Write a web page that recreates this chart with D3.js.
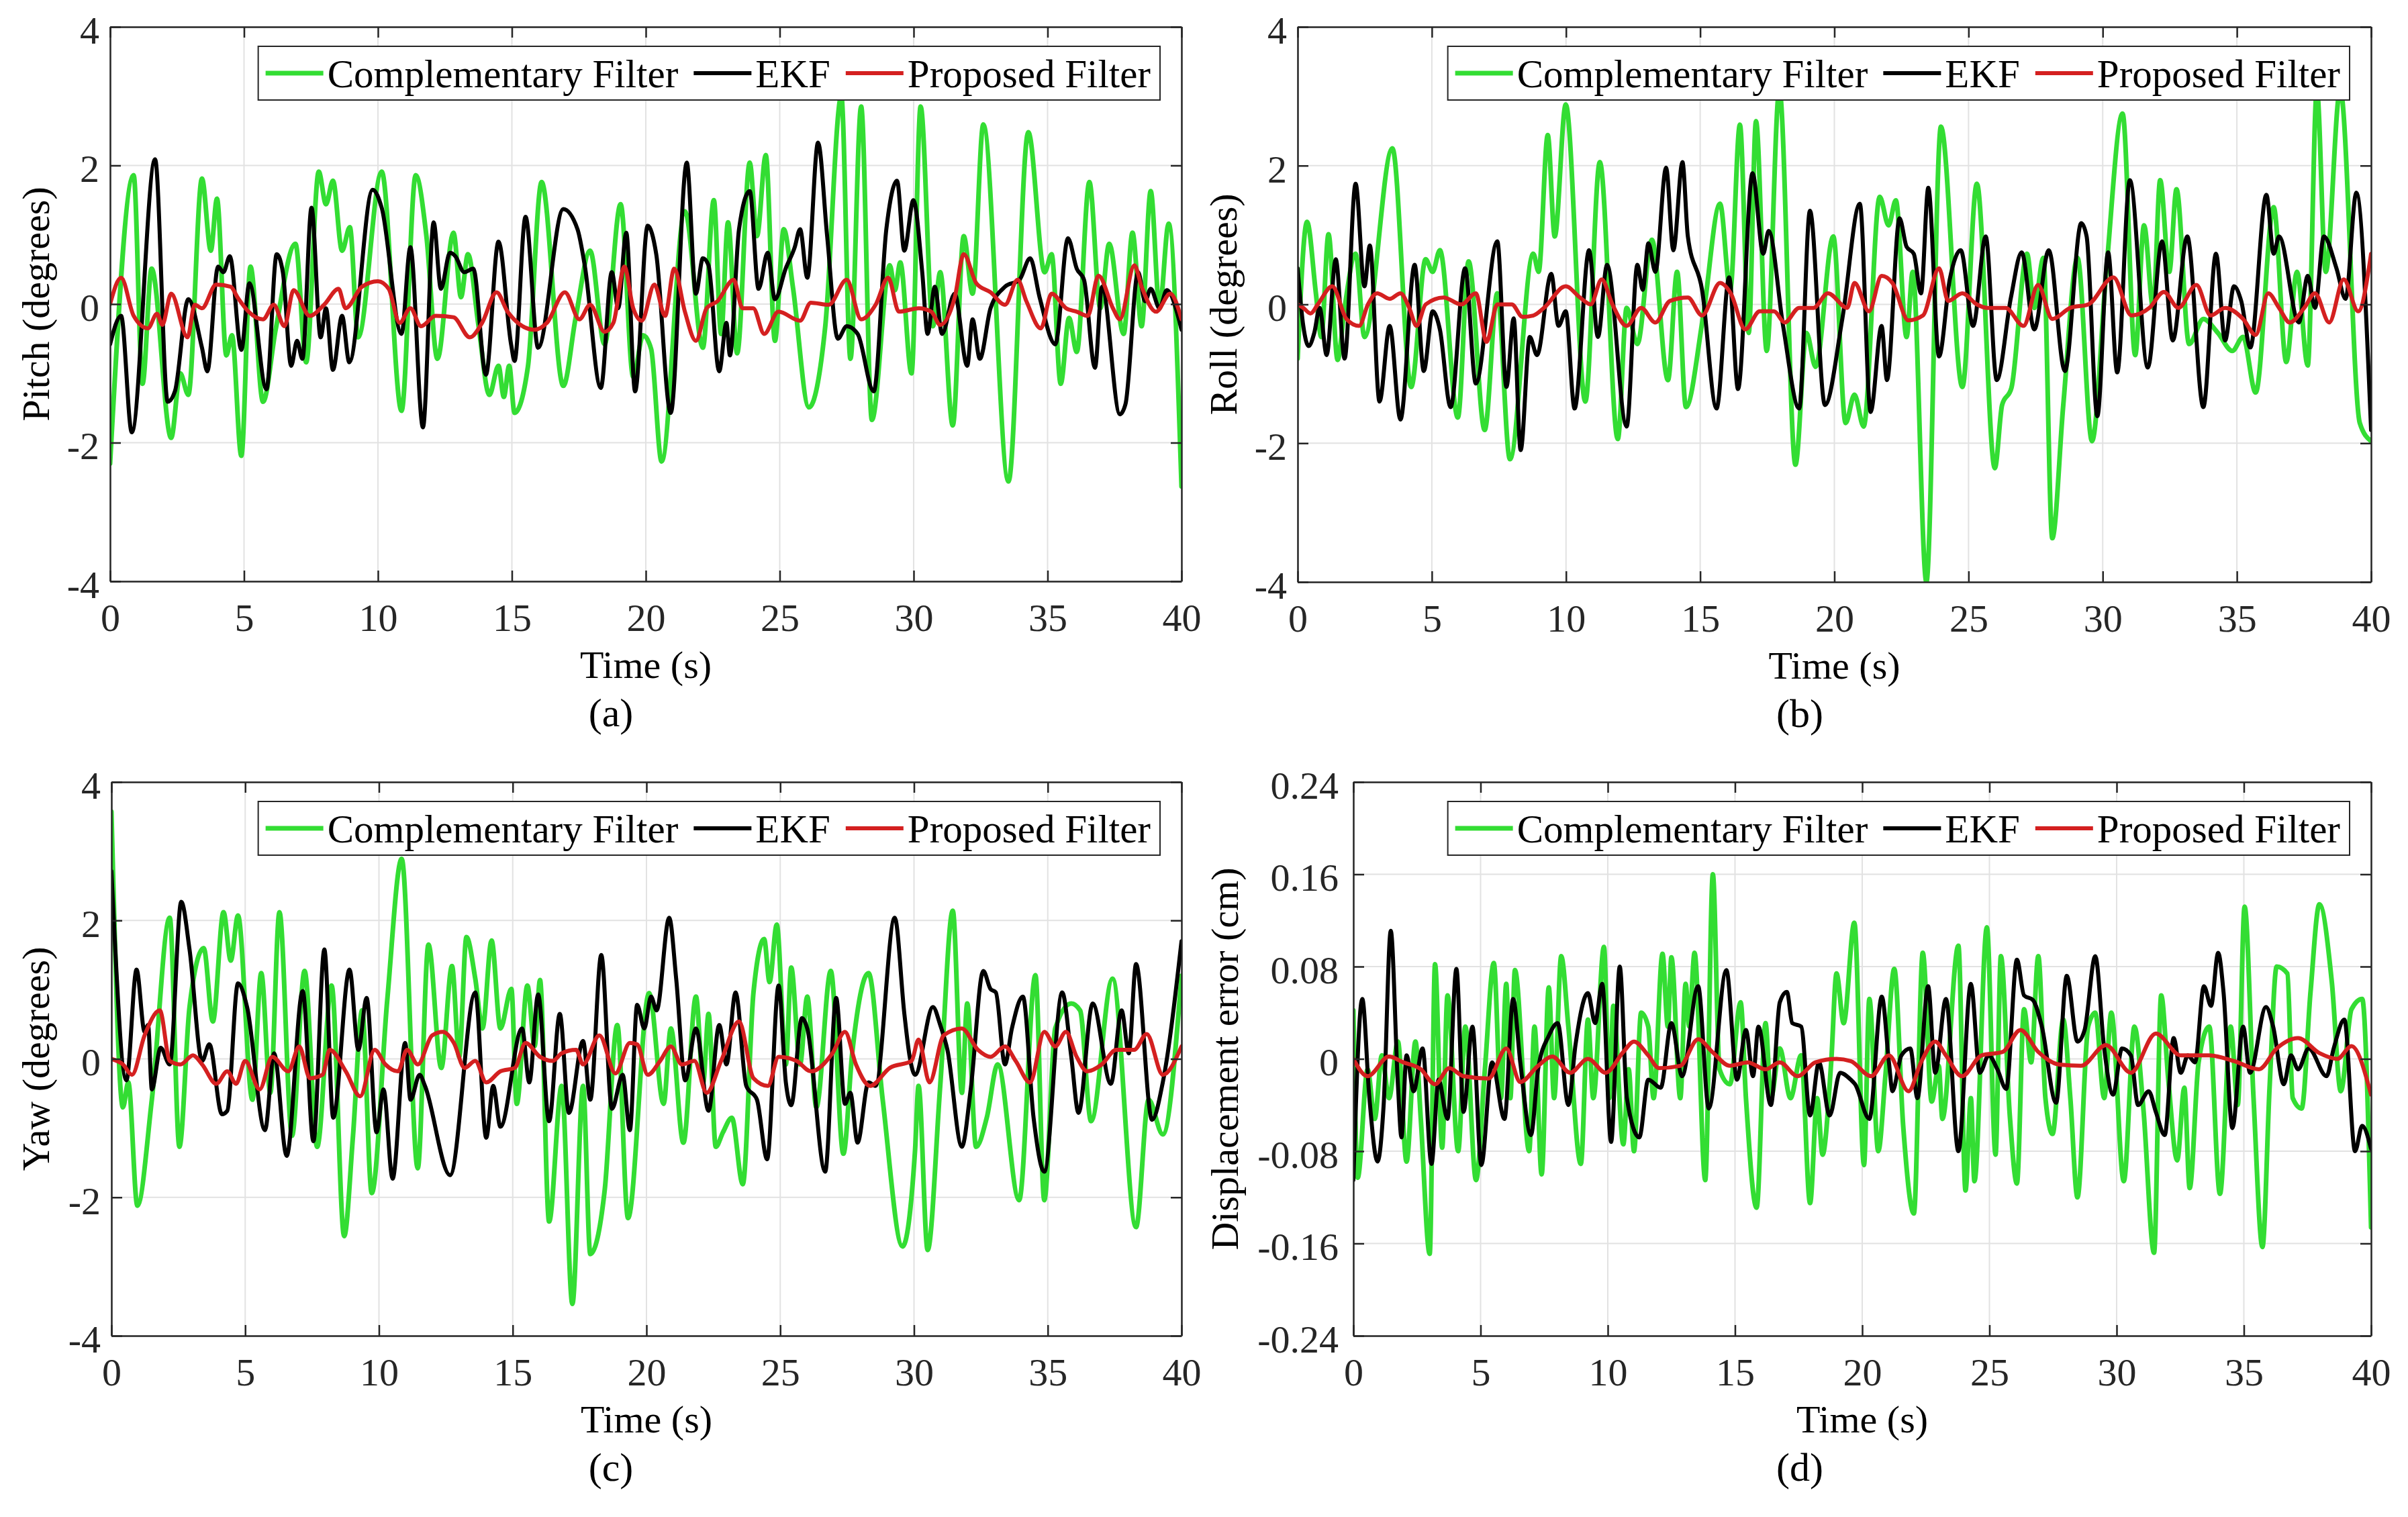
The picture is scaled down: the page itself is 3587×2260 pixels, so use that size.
<!DOCTYPE html>
<html><head><meta charset="utf-8">
<script src="https://cdn.jsdelivr.net/npm/d3@7"></script>
<style>body{margin:0;background:#fff}</style>
</head><body>
<svg id="fig" width="3587" height="2260"></svg>
<script>
// ---------------- DATA ----------------
const timeTicks = [0,5,10,15,20,25,30,35,40];
const timeTickLabels = ["0","5","10","15","20","25","30","35","40"];
const angleTicks = [-4,-2,0,2,4];
const angleTickLabels = ["-4","-2","0","2","4"];
const dispTicks = [-0.24,-0.16,-0.08,0,0.08,0.16,0.24];
const dispTickLabels = ["-0.24","-0.16","-0.08","0","0.08","0.16","0.24"];
const seriesNames = ["Complementary Filter","EKF","Proposed Filter"];
const panelLetters = ["(a)","(b)","(c)","(d)"];
const yLabels = ["Pitch (degrees)","Roll (degrees)","Yaw (degrees)","Displacement error (cm)"];
const xLabel = "Time (s)";

// (a) Pitch
const pitchCF = [[0,-2.30],[0.88,1.86],[1.21,-1.15],[1.55,0.51],[2.28,-1.93],[2.62,-1.00],[2.92,-1.31],[3.43,1.81],[3.76,0.77],[3.99,1.52],[4.34,-0.74],[4.55,-0.45],[4.90,-2.19],[5.24,0.54],[5.71,-1.41],[6.18,-0.37],[6.92,0.87],[7.32,-0.84],[7.79,1.91],[8.06,1.44],[8.32,1.78],[8.66,0.77],[8.95,1.11],[9.26,-0.48],[10.14,1.91],[10.88,-1.54],[11.41,1.86],[11.81,0.98],[12.22,-0.79],[12.82,1.03],[13.10,0.10],[13.36,0.72],[13.75,-0.30],[14.16,-1.31],[14.50,-0.89],[14.70,-1.34],[14.90,-0.89],[15.10,-1.57],[15.60,-0.90],[16.11,1.76],[16.92,-1.18],[17.38,-0.20],[17.92,0.77],[18.46,-0.58],[19.06,1.44],[19.53,-1.05],[19.90,-0.45],[20.20,-0.65],[20.59,-2.27],[21.46,1.34],[22.13,-0.63],[22.54,1.50],[22.81,-0.43],[23.07,1.18],[23.41,-0.71],[23.88,2.04],[24.15,0.98],[24.48,2.15],[24.82,-0.53],[25.15,1.08],[25.49,0.25],[26.09,-1.49],[26.70,-0.32],[27.30,3.00],[27.64,-0.79],[28.04,2.85],[28.44,-1.67],[29.11,0.56],[29.30,0.20],[29.50,0.60],[29.92,-1.00],[30.26,2.85],[30.72,-0.32],[30.99,0.46],[31.46,-1.75],[31.87,0.98],[32.20,0.15],[32.60,2.59],[33.54,-2.56],[34.28,2.48],[34.89,0.46],[35.15,0.72],[35.49,-1.15],[35.80,-0.20],[36.09,-0.69],[36.56,1.76],[36.97,-0.06],[37.30,0.87],[37.84,-0.43],[38.17,1.03],[38.51,-0.32],[38.85,1.63],[39.18,-0.06],[39.52,1.16],[40,-2.63]];
const pitchEKF = [[0,-0.58],[0.41,-0.17],[0.81,-1.85],[1.68,2.09],[2.15,-1.41],[2.42,-1.26],[2.92,0.07],[3.43,-0.63],[3.63,-0.97],[4.03,0.54],[4.23,0.46],[4.47,0.69],[4.90,-0.66],[5.20,0.30],[5.84,-1.23],[6.22,0.72],[6.45,0.46],[6.76,-0.89],[6.98,-0.53],[7.18,-0.79],[7.52,1.39],[7.86,-0.48],[8.06,-0.06],[8.32,-0.95],[8.66,-0.17],[8.93,-0.84],[9.80,1.65],[10.14,1.39],[10.88,-0.43],[11.21,0.82],[11.68,-1.78],[12.08,1.18],[12.35,0.22],[12.69,0.74],[12.89,0.69],[13.22,0.46],[13.56,0.51],[14.03,-1.02],[14.50,0.90],[14.97,-0.58],[15.10,-0.82],[15.51,1.26],[15.98,-0.63],[16.92,1.37],[17.45,1.08],[17.72,0.56],[18.32,-1.21],[18.73,0.46],[18.97,-0.06],[19.27,1.03],[19.60,-1.26],[20.07,1.13],[20.39,0.72],[20.93,-1.57],[21.53,2.04],[21.87,0.15],[22.13,0.66],[22.34,0.56],[22.74,-0.97],[23.01,-0.27],[23.14,-0.74],[23.48,1.08],[23.88,1.63],[24.21,0.22],[24.55,0.74],[24.82,0.07],[25.22,0.51],[25.56,0.82],[25.76,1.08],[26.03,0.38],[26.43,2.33],[26.77,0.98],[27.17,-0.50],[27.50,-0.32],[27.91,-0.43],[28.51,-1.26],[28.98,1.08],[29.38,1.78],[29.65,0.77],[29.99,1.50],[30.32,0.46],[30.52,-0.43],[30.79,0.25],[31.06,-0.43],[31.53,0.15],[32.00,-0.89],[32.20,-0.22],[32.47,-0.79],[32.87,-0.06],[33.41,0.25],[33.95,0.35],[34.35,0.66],[34.70,0.10],[35.29,-0.58],[35.76,0.95],[36.09,0.51],[36.36,0.35],[36.77,-0.92],[37.03,0.25],[37.70,-1.59],[37.91,-1.44],[38.38,0.46],[38.64,0.04],[38.85,0.22],[39.18,-0.06],[39.45,0.20],[40,-0.37]];
const pitchPF = [[0,0.00],[0.41,0.38],[0.88,-0.17],[1.41,-0.35],[1.75,-0.14],[1.95,-0.30],[2.28,0.15],[2.89,-0.48],[3.16,-0.01],[3.43,-0.06],[3.96,0.28],[4.50,0.25],[4.77,0.09],[5.17,-0.11],[5.71,-0.22],[6.11,-0.01],[6.51,-0.32],[6.85,0.20],[7.45,-0.17],[7.99,-0.01],[8.53,0.22],[8.79,-0.06],[9.40,0.25],[10.00,0.33],[10.40,0.22],[10.81,-0.27],[11.21,-0.06],[11.61,-0.32],[12.15,-0.17],[12.82,-0.19],[13.43,-0.48],[13.89,-0.27],[14.43,0.17],[14.84,-0.11],[15.84,-0.37],[16.31,-0.27],[16.98,0.17],[17.52,-0.22],[17.92,-0.01],[18.46,-0.40],[18.79,-0.27],[19.20,0.54],[19.53,-0.06],[19.85,-0.24],[20.32,0.28],[20.72,-0.17],[21.06,0.51],[21.46,-0.11],[21.87,-0.53],[22.27,-0.06],[22.67,0.04],[23.28,0.35],[23.61,-0.06],[24.01,-0.06],[24.42,-0.43],[24.95,-0.11],[25.76,-0.24],[26.16,0.02],[26.83,-0.01],[27.50,0.35],[28.04,-0.22],[28.58,-0.01],[29.05,0.38],[29.45,-0.11],[30.19,-0.06],[30.66,-0.11],[30.99,-0.30],[31.53,0.09],[31.87,0.72],[32.34,0.30],[32.87,0.17],[33.41,-0.01],[33.88,0.35],[34.21,0.04],[34.75,-0.35],[35.15,0.15],[35.69,-0.06],[36.09,-0.11],[36.50,-0.17],[36.90,0.41],[37.44,-0.06],[37.70,-0.22],[38.24,0.56],[38.51,0.25],[39.05,-0.11],[39.58,0.15],[40,-0.22]];

// (b) Roll
const rollCF = [[0,-0.78],[0.35,1.19],[0.68,0.16],[0.88,-0.47],[1.15,1.01],[1.49,-0.80],[1.75,-0.05],[2.16,0.73],[2.49,-0.47],[3.53,2.25],[4.23,-1.19],[4.77,0.65],[5.03,0.47],[5.30,0.78],[5.97,-1.63],[6.37,0.62],[6.97,-1.81],[7.44,0.16],[7.91,-2.23],[8.78,0.73],[8.98,0.47],[9.32,2.44],[9.58,0.98],[9.99,2.88],[10.72,-1.40],[11.26,2.05],[11.93,-1.94],[12.26,-0.05],[12.66,-0.57],[13.20,0.93],[13.80,-1.09],[14.14,0.47],[14.47,-1.48],[15.10,-0.20],[15.74,1.45],[16.12,0.21],[16.48,2.59],[16.81,-0.41],[17.08,2.64],[17.48,-0.67],[17.95,3.10],[18.55,-2.31],[18.96,-0.41],[19.30,-0.90],[19.96,0.98],[20.42,-1.71],[20.75,-1.30],[21.09,-1.76],[21.69,1.55],[22.02,1.14],[22.29,1.50],[22.69,-0.47],[22.92,0.47],[23.43,-4.00],[23.97,2.56],[24.77,-1.19],[25.31,1.74],[25.98,-2.36],[26.25,-1.45],[26.60,-1.20],[27.18,0.73],[27.45,-0.05],[27.79,0.67],[28.12,-3.37],[28.53,-1.45],[29.06,0.67],[29.60,-1.97],[30.13,0.47],[30.74,2.75],[31.21,-0.73],[31.54,1.14],[31.88,-0.05],[32.14,1.79],[32.48,0.47],[32.75,1.66],[33.22,-0.57],[33.75,-0.21],[34.29,-0.41],[34.83,-0.67],[35.23,-0.47],[35.70,-1.27],[36.37,1.40],[36.84,-0.83],[37.24,0.47],[37.64,-0.88],[37.98,3.10],[38.31,0.47],[38.85,3.10],[39.58,-1.71],[40,-1.97]];
const rollEKF = [[0,0.52],[0.21,-0.31],[0.41,-0.60],[0.62,-0.41],[0.82,-0.05],[1.08,-0.73],[1.42,0.65],[1.75,-0.78],[2.16,1.74],[2.49,0.26],[2.69,0.85],[3.05,-1.40],[3.43,-0.31],[3.83,-1.66],[4.36,0.57],[4.70,-0.96],[5.03,-0.10],[5.30,-0.36],[5.70,-1.48],[6.24,0.52],[6.64,-1.14],[7.44,0.91],[7.78,-1.19],[8.05,-0.20],[8.31,-2.10],[8.65,-0.47],[8.92,-0.73],[9.45,0.44],[9.72,-0.31],[9.99,-0.10],[10.32,-1.50],[10.86,0.78],[11.19,-0.47],[11.53,0.57],[12.26,-1.76],[12.66,0.57],[12.86,0.21],[13.07,0.88],[13.33,0.47],[13.73,1.97],[14.00,0.78],[14.34,2.05],[14.54,0.98],[15.07,0.21],[15.61,-1.50],[16.08,0.39],[16.41,-1.22],[16.95,1.89],[17.35,0.73],[17.55,1.06],[18.09,-0.31],[18.69,-1.50],[19.09,1.35],[19.65,-1.45],[20.30,-0.20],[20.95,1.45],[21.35,-1.55],[21.76,-0.31],[21.96,-1.09],[22.43,1.24],[22.69,0.83],[22.96,0.73],[23.23,0.16],[23.50,1.68],[23.90,-0.75],[24.30,0.36],[24.71,0.78],[25.17,-0.31],[25.64,0.98],[26.05,-1.09],[26.58,0.10],[26.98,0.75],[27.45,-0.36],[27.99,0.78],[28.59,-0.96],[29.20,1.17],[29.40,0.98],[29.80,-1.61],[30.20,0.75],[30.54,-0.98],[31.01,1.79],[31.68,-0.91],[32.21,0.91],[32.61,-0.52],[33.15,0.98],[33.75,-1.48],[34.22,0.73],[34.56,-0.52],[34.89,0.26],[35.16,0.05],[35.50,-0.62],[36.10,1.58],[36.37,0.73],[36.57,0.98],[37.31,-0.26],[37.64,0.41],[37.91,-0.05],[38.24,0.98],[38.71,0.52],[39.05,0.08],[39.45,1.61],[40,-1.81]];
const rollPF = [[0,0.00],[0.21,-0.05],[0.48,-0.13],[0.75,0.00],[1.29,0.26],[1.82,-0.21],[2.29,-0.31],[2.62,0.00],[2.96,0.16],[3.43,0.08],[3.83,0.16],[4.16,-0.05],[4.43,-0.31],[4.77,0.00],[5.44,0.10],[6.10,0.00],[6.64,0.16],[7.04,-0.54],[7.44,0.00],[7.98,0.00],[8.38,-0.18],[8.78,-0.16],[9.18,-0.05],[9.99,0.26],[10.52,0.10],[10.92,0.00],[11.33,0.36],[11.73,0.00],[12.26,-0.31],[12.80,-0.05],[13.33,-0.26],[13.87,0.05],[14.54,0.10],[15.07,-0.16],[15.74,0.31],[16.14,0.16],[16.68,-0.36],[17.22,-0.10],[17.75,-0.10],[18.15,-0.26],[18.69,-0.05],[19.22,-0.05],[19.76,0.16],[20.48,-0.05],[20.75,0.31],[21.29,-0.10],[21.76,0.41],[22.16,0.31],[22.76,-0.23],[23.30,-0.16],[23.90,0.52],[24.24,0.05],[24.77,0.16],[25.31,0.00],[25.71,-0.05],[26.38,-0.05],[27.05,-0.31],[27.59,0.28],[28.12,-0.21],[28.79,-0.05],[29.46,0.00],[30.40,0.39],[31.07,-0.16],[31.74,-0.05],[32.28,0.18],[32.82,-0.05],[33.49,0.28],[34.02,-0.16],[34.56,-0.05],[35.23,-0.21],[35.70,-0.44],[36.17,0.16],[36.57,-0.05],[36.97,-0.26],[37.51,-0.05],[37.91,0.16],[38.44,-0.26],[38.98,0.36],[39.52,-0.10],[40,0.73]];

// (c) Yaw
const yawCF = [[0,3.57],[0.43,-0.70],[0.63,-0.34],[0.97,-2.12],[1.51,-0.59],[2.18,2.04],[2.54,-1.27],[2.92,0.75],[3.45,1.60],[3.79,0.54],[4.19,2.12],[4.46,1.42],[4.73,2.07],[5.27,-0.59],[5.60,1.24],[5.94,-0.49],[6.28,2.12],[6.75,-1.11],[7.22,1.27],[7.69,-1.27],[8.23,1.06],[8.70,-2.56],[9.03,-1.11],[9.37,0.70],[9.73,-1.94],[10.31,0.85],[10.85,2.89],[11.45,-1.58],[11.85,1.65],[12.33,-0.13],[12.73,1.34],[13.00,0.03],[13.27,1.76],[13.60,1.16],[13.87,0.44],[14.21,1.71],[14.54,0.44],[14.95,1.01],[15.15,-0.65],[15.55,1.06],[15.82,0.18],[16.02,1.14],[16.36,-2.35],[16.83,-0.39],[17.23,-3.54],[17.63,-0.39],[17.90,-2.82],[18.44,-1.89],[18.91,0.49],[19.31,-2.30],[20.10,0.95],[20.64,-0.65],[20.91,0.44],[21.38,-1.21],[21.85,0.90],[22.12,-0.34],[22.32,0.65],[22.59,-1.27],[22.86,-1.06],[23.19,-0.85],[23.60,-1.81],[24.00,0.96],[24.40,1.73],[24.60,1.11],[24.87,1.94],[25.21,-0.08],[25.41,1.32],[25.74,-0.08],[26.01,0.90],[26.35,-0.70],[26.89,1.27],[27.36,-1.37],[27.69,0.08],[28.30,1.24],[28.83,-0.59],[29.57,-2.71],[30.04,-1.32],[30.17,-0.39],[30.51,-2.76],[30.98,-0.39],[31.45,2.14],[31.79,-0.49],[31.99,0.80],[32.32,-1.27],[32.72,-0.85],[33.13,-0.08],[33.93,-2.04],[34.54,1.21],[34.87,-2.04],[35.28,0.44],[35.88,0.80],[36.21,0.70],[36.62,-0.90],[37.42,1.16],[38.30,-2.43],[38.77,-0.59],[39.30,-1.09],[40,1.20]];
const yawEKF = [[0,2.71],[0.56,-0.31],[0.94,1.29],[1.24,0.39],[1.37,0.49],[1.51,-0.44],[1.84,0.16],[2.18,-0.08],[2.61,2.27],[2.92,1.58],[3.39,-0.03],[3.66,0.21],[4.13,-0.80],[4.33,-0.75],[4.73,1.09],[5.07,0.75],[5.74,-1.03],[6.08,0.08],[6.55,-1.40],[7.15,0.98],[7.55,-1.19],[7.96,1.58],[8.29,-0.85],[8.90,1.29],[9.23,0.13],[9.54,0.88],[9.91,-1.06],[10.17,-0.44],[10.51,-1.73],[10.98,0.23],[11.18,-0.59],[11.52,-0.23],[11.72,-0.39],[12.66,-1.68],[13.60,0.96],[14.01,-1.14],[14.27,-0.39],[14.54,-0.98],[15.35,0.44],[15.62,-0.34],[15.95,0.93],[16.36,-0.90],[16.76,0.65],[17.10,-0.78],[17.63,0.26],[17.90,-0.59],[18.31,1.50],[18.71,-0.72],[19.11,-0.23],[19.38,-1.03],[19.65,0.78],[19.92,0.44],[20.17,0.90],[20.38,0.70],[20.85,2.04],[21.11,1.16],[21.45,-0.31],[21.85,0.44],[22.32,-0.75],[22.72,0.49],[22.99,-0.08],[23.33,0.96],[23.73,-0.39],[24.13,-0.59],[24.51,-1.45],[24.94,1.06],[25.21,-0.34],[25.41,-0.67],[25.81,0.59],[26.01,0.44],[26.68,-1.63],[27.09,0.88],[27.42,-0.65],[27.62,-0.49],[27.89,-1.21],[28.30,-0.34],[28.56,-0.39],[29.28,2.04],[29.64,0.65],[29.84,0.03],[30.04,-0.23],[30.71,0.75],[30.98,0.49],[31.25,0.13],[31.79,-1.27],[32.12,-0.44],[32.59,1.27],[32.86,1.01],[33.06,0.96],[33.40,-0.08],[33.66,0.44],[34.07,0.90],[34.47,-0.85],[34.87,-1.63],[35.54,0.96],[35.88,0.03],[36.15,-0.78],[36.68,0.80],[37.36,-0.36],[37.76,0.70],[38.03,0.08],[38.30,1.37],[38.90,-0.88],[39.30,-0.34],[40,1.70]];
const yawPF = [[0,0.00],[0.43,-0.08],[0.77,-0.23],[1.24,0.34],[1.81,0.70],[2.18,-0.03],[2.58,-0.08],[3.05,0.05],[3.39,-0.08],[3.92,-0.36],[4.33,-0.18],[4.66,-0.36],[5.00,-0.03],[5.54,-0.44],[6.01,0.03],[6.61,-0.18],[7.02,0.18],[7.42,-0.28],[7.89,-0.23],[8.16,0.13],[8.76,-0.18],[9.30,-0.54],[9.84,0.13],[10.24,-0.08],[10.71,-0.18],[11.05,0.13],[11.45,-0.08],[11.99,0.34],[12.39,0.39],[12.80,0.23],[13.20,-0.13],[13.60,-0.03],[14.01,-0.34],[14.54,-0.18],[15.08,-0.13],[15.48,0.23],[16.02,0.03],[16.49,-0.03],[16.83,0.08],[17.37,0.13],[17.63,-0.08],[18.24,0.34],[18.84,-0.21],[19.38,0.23],[19.65,0.21],[20.05,-0.23],[20.51,-0.03],[20.91,0.18],[21.32,-0.08],[21.79,-0.03],[22.25,-0.49],[22.79,-0.03],[23.46,0.54],[24.00,-0.28],[24.54,-0.39],[24.94,0.03],[25.61,-0.03],[26.15,-0.18],[26.95,0.08],[27.42,0.39],[27.83,-0.08],[28.36,-0.39],[29.10,-0.13],[29.91,-0.03],[30.17,0.28],[30.58,-0.34],[31.11,0.34],[31.79,0.44],[32.39,0.13],[32.86,0.03],[33.40,0.18],[33.80,-0.03],[34.34,-0.34],[34.87,0.39],[35.28,0.18],[35.68,0.39],[36.08,0.03],[36.48,-0.18],[37.02,-0.08],[37.56,0.13],[38.23,0.13],[38.70,0.36],[39.30,-0.23],[40,0.18]];

// (d) Displacement error
const dispCF = [[0,0.042],[0.17,-0.103],[0.56,-0.009],[0.84,-0.052],[1.12,0.003],[1.40,-0.034],[1.75,0.015],[2.09,-0.089],[2.44,0.015],[2.65,-0.052],[3.00,-0.169],[3.21,0.082],[3.49,-0.077],[3.70,0.055],[4.12,-0.080],[4.40,0.028],[4.82,-0.105],[5.17,-0.009],[5.52,0.083],[5.80,-0.034],[6.01,0.065],[6.17,-0.034],[6.35,0.077],[6.91,-0.080],[7.12,0.028],[7.40,-0.100],[7.68,0.062],[7.89,-0.034],[8.17,0.089],[8.45,0.028],[8.94,-0.091],[9.22,0.034],[9.43,-0.034],[9.85,0.097],[10.06,-0.034],[10.22,0.046],[10.61,-0.074],[10.82,-0.009],[11.03,-0.080],[11.31,0.040],[11.59,0.028],[11.80,-0.034],[12.15,0.091],[12.36,0.028],[12.50,0.088],[12.85,-0.034],[13.06,0.065],[13.20,0.028],[13.41,0.092],[13.83,-0.105],[14.13,0.160],[14.39,-0.009],[14.80,-0.022],[15.22,0.049],[15.43,-0.034],[15.85,-0.129],[16.20,0.031],[16.41,-0.034],[16.76,0.009],[17.18,-0.034],[17.60,0.003],[17.95,-0.125],[18.23,-0.034],[18.44,-0.083],[18.78,-0.003],[18.99,0.074],[19.27,0.031],[19.69,0.118],[20.07,-0.092],[20.28,0.052],[20.63,-0.080],[20.91,-0.015],[21.26,0.078],[21.61,-0.058],[22.03,-0.134],[22.38,0.092],[22.73,-0.037],[23.01,-0.006],[23.15,-0.052],[23.78,0.098],[24.06,-0.114],[24.27,-0.034],[24.41,-0.106],[24.90,0.114],[25.24,-0.083],[25.45,0.089],[25.80,-0.049],[26.08,-0.108],[26.36,0.043],[26.64,-0.003],[26.92,0.089],[27.20,-0.034],[27.48,-0.065],[27.90,0.034],[28.18,-0.034],[28.46,-0.120],[28.88,0.028],[29.16,0.040],[29.51,-0.034],[29.79,0.040],[30.28,-0.106],[30.70,0.028],[31.05,-0.043],[31.47,-0.168],[31.75,0.055],[32.03,-0.018],[32.38,-0.088],[32.66,-0.025],[32.87,-0.112],[33.22,-0.003],[33.64,0.028],[34.06,-0.117],[34.48,0.028],[34.76,-0.040],[35.03,0.132],[35.38,-0.034],[35.73,-0.163],[36.01,-0.025],[36.29,0.080],[36.71,0.074],[36.92,-0.034],[37.27,-0.043],[37.62,0.058],[37.97,0.134],[38.46,0.066],[38.81,-0.028],[39.23,0.043],[39.65,0.052],[40,-0.146]];
const dispEKF = [[0,-0.105],[0.35,0.052],[0.63,-0.034],[0.95,-0.089],[1.19,-0.040],[1.47,0.111],[1.75,-0.022],[1.89,-0.068],[2.09,0.003],[2.37,-0.028],[2.72,0.009],[3.07,-0.091],[3.35,-0.018],[3.70,-0.052],[4.05,0.078],[4.33,-0.046],[4.68,0.028],[5.03,-0.092],[5.45,-0.003],[5.94,-0.052],[6.28,0.052],[6.56,-0.003],[6.98,-0.066],[7.26,-0.009],[7.68,0.020],[8.03,0.031],[8.45,-0.040],[8.73,0.012],[9.22,0.057],[9.50,0.031],[9.78,0.065],[10.13,-0.072],[10.47,0.080],[10.75,-0.034],[11.24,-0.068],[11.59,-0.018],[12.08,-0.025],[12.50,0.031],[12.92,-0.015],[13.55,0.063],[13.97,-0.043],[14.66,0.077],[15.08,-0.018],[15.43,0.025],[15.71,-0.015],[15.92,0.028],[16.41,-0.040],[16.76,0.049],[17.04,0.058],[17.25,0.031],[17.60,0.028],[17.95,-0.049],[18.30,-0.003],[18.72,-0.049],[19.13,-0.012],[19.55,-0.018],[19.72,-0.022],[20.28,-0.052],[20.77,0.054],[21.05,-0.003],[21.19,-0.028],[21.54,0.003],[21.89,0.009],[22.17,-0.034],[22.59,0.063],[22.87,-0.012],[23.29,0.052],[23.78,-0.080],[24.27,0.065],[24.62,-0.012],[24.97,0.003],[25.31,-0.009],[25.66,-0.026],[26.08,0.086],[26.36,0.055],[26.71,0.051],[27.06,0.028],[27.62,-0.038],[28.04,0.072],[28.46,0.015],[28.74,0.025],[29.16,0.089],[29.51,0.009],[29.86,-0.031],[30.21,0.009],[30.56,0.003],[30.84,-0.040],[31.26,-0.028],[31.54,-0.046],[31.89,-0.066],[32.24,0.018],[32.52,-0.012],[32.80,0.003],[33.08,-0.003],[33.43,0.063],[33.71,0.046],[33.99,0.092],[34.20,0.058],[34.55,-0.060],[34.97,0.028],[35.24,-0.012],[35.87,0.045],[36.15,0.028],[36.57,-0.022],[36.85,0.003],[37.13,-0.009],[37.55,0.009],[38.25,-0.015],[38.53,0.009],[38.95,0.034],[39.37,-0.080],[39.65,-0.058],[40,-0.078]];
const dispPF = [[0,0.000],[0.56,-0.015],[1.40,0.002],[1.96,-0.003],[2.65,-0.009],[3.21,-0.022],[3.77,-0.008],[4.33,-0.015],[5.31,-0.017],[6.01,0.009],[6.56,-0.020],[7.26,-0.006],[7.82,0.002],[8.52,-0.012],[9.22,0.000],[9.92,-0.012],[10.61,0.006],[11.03,0.015],[11.59,0.003],[12.01,-0.008],[12.85,-0.006],[13.55,0.017],[14.11,0.006],[14.80,-0.006],[15.50,-0.003],[16.20,-0.009],[16.76,-0.003],[17.46,-0.015],[18.16,-0.003],[18.99,0.000],[19.55,-0.002],[20.35,-0.015],[21.05,0.003],[21.82,-0.028],[22.31,-0.003],[22.87,0.015],[23.29,0.003],[23.92,-0.015],[24.69,0.003],[25.52,0.006],[26.22,0.025],[26.92,0.006],[27.76,-0.005],[28.60,-0.006],[29.58,0.012],[30.56,-0.012],[31.54,0.022],[32.52,0.003],[33.64,0.003],[34.62,-0.002],[35.59,-0.009],[36.29,0.009],[37.13,0.018],[37.97,0.005],[38.67,0.000],[39.23,0.011],[40,-0.031]];

// ---------------- DRAWING ----------------
const FONT = "'Liberation Serif','Times New Roman',Times,serif";
const lineColors = ["#33dd33","#000000","#d42020"];
const lineWidths = [7, 6, 6];
const axisColor = "#262626";

const panels = [
  {series:[pitchCF,pitchEKF,pitchPF], ticks:angleTicks, tickLabels:angleTickLabels, yLabel:yLabels[0], letter:panelLetters[0], x0:164, x1:1760, y0:40,  y1:866,  yLabelX:73,   letterX:910},
  {series:[rollCF,rollEKF,rollPF],    ticks:angleTicks, tickLabels:angleTickLabels, yLabel:yLabels[1], letter:panelLetters[1], x0:1933,x1:3532, y0:40,  y1:867,  yLabelX:1842, letterX:2681},
  {series:[yawCF,yawEKF,yawPF],       ticks:angleTicks, tickLabels:angleTickLabels, yLabel:yLabels[2], letter:panelLetters[2], x0:166, x1:1760, y0:1165,y1:1990, yLabelX:73,   letterX:910},
  {series:[dispCF,dispEKF,dispPF],    ticks:dispTicks,  tickLabels:dispTickLabels,  yLabel:yLabels[3], letter:panelLetters[3], x0:2016,x1:3532, y0:1165,y1:1990, yLabelX:1844, letterX:2681}
];

const svg = d3.select("#fig");
svg.append("rect").attr("width",3587).attr("height",2260).attr("fill","#fff");
const defs = svg.append("defs");

panels.forEach((p, pi) => {
  const g = svg.append("g");
  const x = d3.scaleLinear().domain([timeTicks[0], timeTicks[timeTicks.length-1]]).range([p.x0, p.x1]);
  const y = d3.scaleLinear().domain([p.ticks[0], p.ticks[p.ticks.length-1]]).range([p.y1, p.y0]);

  // grid
  g.append("g").selectAll("line").data(timeTicks).join("line")
    .attr("x1", d => x(d)).attr("x2", d => x(d)).attr("y1", p.y0).attr("y2", p.y1)
    .attr("stroke", "#e2e2e2").attr("stroke-width", 2);
  g.append("g").selectAll("line").data(p.ticks).join("line")
    .attr("y1", d => y(d)).attr("y2", d => y(d)).attr("x1", p.x0).attr("x2", p.x1)
    .attr("stroke", "#e2e2e2").attr("stroke-width", 2);

  // clip + series
  const cid = "clip" + pi;
  defs.append("clipPath").attr("id", cid).append("rect")
    .attr("x", p.x0).attr("y", p.y0).attr("width", p.x1 - p.x0).attr("height", p.y1 - p.y0);
  const line = d3.line().x(d => x(d[0])).y(d => y(d[1])).curve(d3.curveMonotoneX);
  const lg = g.append("g").attr("clip-path", `url(#${cid})`);
  p.series.forEach((s, i) => {
    lg.append("path").datum(s).attr("d", line).attr("fill", "none")
      .attr("stroke", lineColors[i]).attr("stroke-width", lineWidths[i])
      .attr("stroke-linejoin", "round").attr("stroke-linecap", "round");
  });

  // axes
  const styleAxis = sel => {
    sel.attr("font-family", FONT).attr("font-size", 58).attr("color", axisColor);
    sel.selectAll("line,path").attr("stroke-width", 2.5);
  };
  g.append("g").attr("transform", `translate(0,${p.y1})`)
    .call(d3.axisBottom(x).tickValues(timeTicks).tickFormat((d,i) => timeTickLabels[i])
      .tickSizeInner(-16).tickSizeOuter(0).tickPadding(33))
    .call(styleAxis);
  g.append("g").attr("transform", `translate(0,${p.y0})`)
    .call(d3.axisTop(x).tickValues(timeTicks).tickFormat("").tickSizeInner(-16).tickSizeOuter(0))
    .call(styleAxis);
  const yl = g.append("g").attr("transform", `translate(${p.x0},0)`)
    .call(d3.axisLeft(y).tickValues(p.ticks).tickFormat((d,i) => p.tickLabels[i])
      .tickSizeInner(-16).tickSizeOuter(0).tickPadding(p.ticks === dispTicks ? 22 : 16))
    .call(styleAxis);
  yl.selectAll("text").attr("dy", "0.42em");
  g.append("g").attr("transform", `translate(${p.x1},0)`)
    .call(d3.axisRight(y).tickValues(p.ticks).tickFormat("").tickSizeInner(-16).tickSizeOuter(0))
    .call(styleAxis);

  // labels
  g.append("text").attr("x", (p.x0 + p.x1) / 2).attr("y", p.y1 + 144)
    .attr("text-anchor", "middle").attr("font-family", FONT).attr("font-size", 58)
    .attr("fill", "#000").text(xLabel);
  g.append("text").attr("x", p.letterX).attr("y", p.y1 + 216)
    .attr("text-anchor", "middle").attr("font-family", FONT).attr("font-size", 60)
    .attr("fill", "#000").text(p.letter);
  g.append("text").attr("transform", `translate(${p.yLabelX},${(p.y0 + p.y1) / 2}) rotate(-90)`)
    .attr("text-anchor", "middle").attr("font-family", FONT).attr("font-size", 58)
    .attr("fill", "#000").text(p.yLabel);

  // legend
  const leg = g.append("g");
  const box = leg.append("rect");
  let cx = 11;
  seriesNames.forEach((name, i) => {
    leg.append("line").attr("x1", cx).attr("x2", cx + 86).attr("y1", 40).attr("y2", 40)
      .attr("stroke", lineColors[i]).attr("stroke-width", lineWidths[i]);
    const t = leg.append("text").attr("x", cx + 92).attr("y", 61)
      .attr("font-family", FONT).attr("font-size", 59).attr("fill", "#000").text(name);
    const w = t.node().getComputedTextLength();
    cx = cx + 92 + w + 23;
  });
  const bw = cx - 23 + 14;
  box.attr("x", 0).attr("y", 0).attr("width", bw).attr("height", 80)
    .attr("fill", "#fff").attr("stroke", axisColor).attr("stroke-width", 2);
  leg.attr("transform", `translate(${p.x1 - 32 - bw},${p.y0 + 29})`);
});
</script>
</body></html>
